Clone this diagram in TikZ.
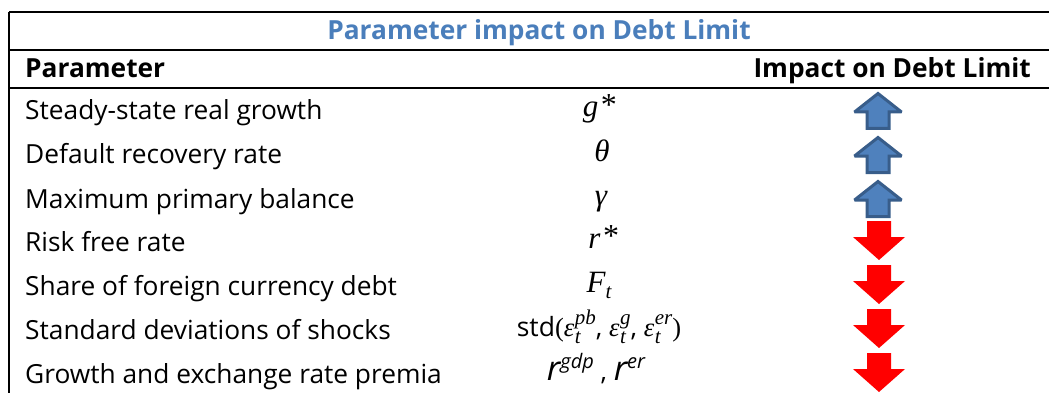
\documentclass[tikz,border=0pt]{standalone}
\usepackage{fontspec}
\setmainfont{Open Sans}
\newfontfamily\serifit{Liberation Serif}
\definecolor{titleblue}{HTML}{4A7EBB}
\definecolor{arrowfill}{HTML}{4F81BD}
\definecolor{arrowline}{HTML}{385D8A}
\definecolor{arrowred}{HTML}{FF0000}
\newcommand{\supit}[1]{\raisebox{0.33em}{\fontsize{20}{20}\selectfont\itshape #1}}
\newcommand{\scr}{\fontsize{21}{21}\selectfont\serifit\itshape}
\newcommand{\epsst}[1]{{\serifit\itshape ε}\hspace{0.5pt}\rlap{\raisebox{-0.28em}{\scr t}}\raisebox{0.42em}{\scr #1}}
\newcommand{\astr}{\hspace{1pt}\raisebox{0.04em}{\fontsize{32}{32}\selectfont\serifit *}}
\tikzset{
  rule/.style={line width=2.5pt, black},
  lbl/.style={anchor=base west, inner sep=0pt, font=\fontsize{26.3}{30}\selectfont},
  hdr/.style={inner sep=0pt, font=\fontsize{26.3}{30}\selectfont\bfseries},
  sym/.style={anchor=base, inner sep=0pt, font=\fontsize{31}{32}\selectfont\serifit\itshape},
  uparrow/.pic={\draw[line width=3pt, arrowline, fill=arrowfill, line join=miter, miter limit=3]
     (0,2.5) -- (23.5,21) -- (11,21) -- (11,37.5) -- (-11,37.5) -- (-11,21) -- (-23.5,21) -- cycle;},
  downarrow/.pic={\fill[arrowred]
     (-12,0) -- (12,0) -- (12,16) -- (26,16) -- (0,39) -- (-26,16) -- (-12,16) -- cycle;}
}
\begin{document}
\begin{tikzpicture}[x=1pt,y=-1pt]
\useasboundingbox (0,0) rectangle (1049,393);
% frame rules
\coordinate (tl) at (9,12);
\coordinate (tr) at (1049,12);
\coordinate (bl) at (9,393);
\draw[rule] (tl) -- (tr);
\draw[line width=2pt] (tl) -- (bl);
\coordinate (m1l) at (9,50);
\coordinate (m1r) at (1049,50);
\draw[rule] (m1l) -- (m1r);
\coordinate (m2l) at (9,88);
\coordinate (m2r) at (1049,88);
\draw[rule] (m2l) -- (m2r);
% title and headers
\node[hdr, text=titleblue, anchor=base] (title) at (539,40) {Parameter impact on Debt Limit};
\node[hdr, anchor=base west] (hparam) at (25,78) {Parameter};
\node[hdr, anchor=base east] (himpact) at (1031,78) {Impact on Debt Limit};
% rows
\node[lbl] (p1) at (25,120) {Steady-state real growth};
\node[lbl] (p2) at (25,164) {Default recovery rate};
\node[lbl] (p3) at (25,208) {Maximum primary balance};
\node[lbl] (p4) at (25,251) {Risk free rate};
\node[lbl] (p5) at (25,295) {Share of foreign currency debt};
\node[lbl] (p6) at (25,339) {Standard deviations of shocks};
\node[lbl] (p7) at (25,383) {Growth and exchange rate premia};
% symbols
\node[sym] (s1) at (599,117) {g\astr};
\node[sym] (s2) at (602,161) {θ};
\node[sym] (s3) at (601,205) {γ};
\node[sym] (s4) at (603,248) {r\astr};
\node[sym] (s5) at (599,292) {F\raisebox{-0.22em}{\scr t}};
\node[sym, font=\fontsize{29}{30}\selectfont] (s6) at (599,336) {\fontsize{26.5}{30}\selectfont std{\serifit(}\epsst{pb}, \epsst{g}, \epsst{er}{\serifit)}};
\node[sym, font=\fontsize{34}{34}\selectfont\itshape] (s7) at (596,380) {r\supit{gdp}\upshape\fontsize{26}{30}\selectfont\ , \itshape\fontsize{34}{34}\selectfont r\supit{er}};
% arrows
\pic at (878,91) {uparrow};
\pic at (878,135) {uparrow};
\pic at (878,179) {uparrow};
\pic at (879,221) {downarrow};
\pic at (879,265) {downarrow};
\pic at (879,309) {downarrow};
\pic at (879,353) {downarrow};
\end{tikzpicture}
\end{document}
